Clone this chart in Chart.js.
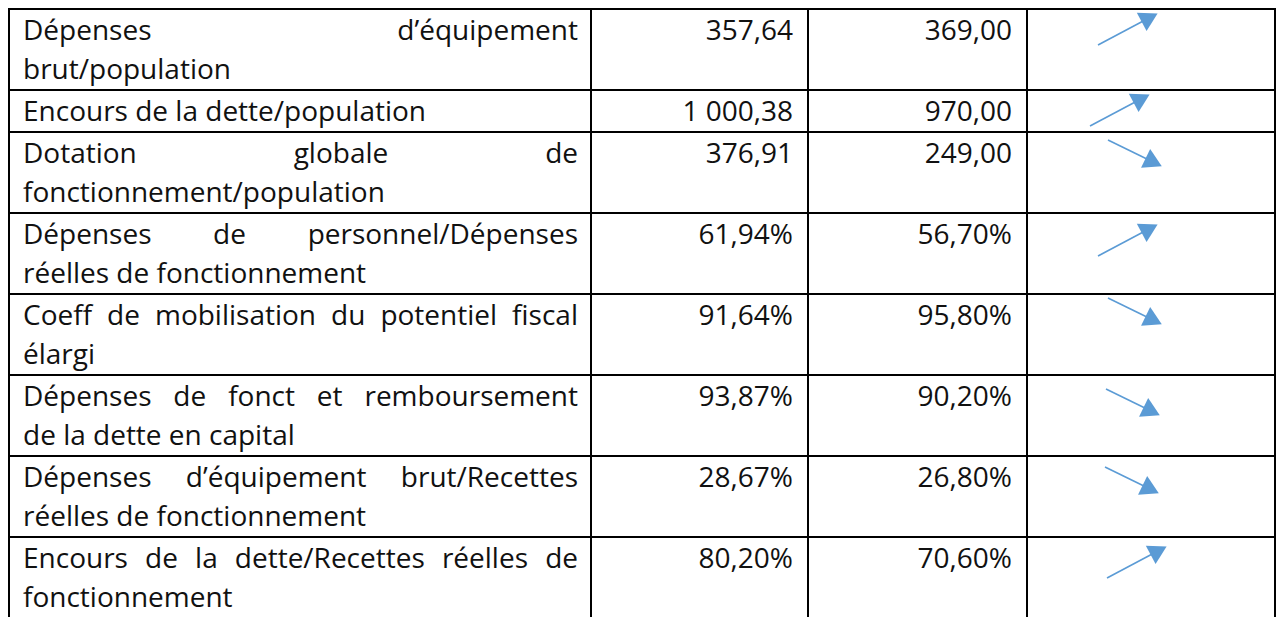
<!DOCTYPE html>
<html lang="fr">
<head>
<meta charset="utf-8">
<title>Ratios financiers</title>
<script src="https://cdn.jsdelivr.net/npm/chart.js@4/dist/chart.umd.min.js"></script>
<style>
  html, body {
    margin: 0;
    background: #fff;
    overflow: hidden;
    width: 1281px;
    height: 617px;
  }
  table {
    position: absolute;
    left: 8px;
    top: 8px;
    border-collapse: collapse;
    table-layout: fixed;
    font-family: 'Open Sans', sans-serif;
    font-size: 28px;
    color: #111;
  }
  td {
    border: 2px solid #000;
    line-height: 39px;
    padding: 0 12px 1px 13px;
    vertical-align: top;
  }
  td.num {
    text-align: right;
    padding-right: 14px;
  }
  td.fleche {
    position: relative;
    padding: 0;
  }
  .ln { text-align: left; white-space: nowrap; }
  .ln.just { text-align: justify; text-align-last: justify; }
  .box { position: absolute; }
</style>
</head>
<body>
<table id="tableau">
  <colgroup>
    <col style="width:582px">
    <col style="width:217px">
    <col style="width:219px">
    <col style="width:248px">
  </colgroup>
  <tbody></tbody>
</table>
<script>
// libelles, une entree par ligne du tableau (retours a la ligne comme dans le document)
const libelles = [
  ['Dépenses d’équipement', 'brut/population'],
  ['Encours de la dette/population'],
  ['Dotation globale de', 'fonctionnement/population'],
  ['Dépenses de personnel/Dépenses', 'réelles de fonctionnement'],
  ['Coeff de mobilisation du potentiel fiscal', 'élargi'],
  ['Dépenses de fonct et remboursement', 'de la dette en capital'],
  ['Dépenses d’équipement brut/Recettes', 'réelles de fonctionnement'],
  ['Encours de la dette/Recettes réelles de', 'fonctionnement']
]

const colonne2 = [357.64, 1000.38, 376.91, 61.94, 91.64, 93.87, 28.67, 80.20]
const colonne3 = [369.00, 970.00, 249.00, 56.70, 95.80, 90.20, 26.80, 70.60]
const enPourcent = [false, false, false, true, true, true, true, true]

// sens de la fleche dans la derniere colonne
const tendance = ['hausse', 'hausse', 'baisse', 'hausse', 'baisse', 'baisse', 'baisse', 'hausse']

// mise en page : depart de chaque fleche dans sa cellule (px)
const departFleche = [[71, 36], [63, 36], [81, 8], [71, 43], [81, 4], [79, 14], [78, 11], [80, 41]]

const bleu = '#5B9BD5'
const marge = 14

function fmt(v, pct) {
  let [ent, dec] = v.toFixed(2).split('.')
  ent = ent.replace(/\B(?=(\d{3})+(?!\d))/g, ' ')
  return ent + ',' + dec + (pct ? '%' : '')
}

const tbody = document.querySelector('#tableau tbody')

libelles.forEach((lignes, i) => {
  const tr = document.createElement('tr')

  const tdLib = document.createElement('td')
  lignes.forEach((txt, k) => {
    const div = document.createElement('div')
    div.className = k < lignes.length - 1 ? 'ln just' : 'ln'
    div.textContent = txt
    tdLib.appendChild(div)
  })
  if (lignes.length === 1) tdLib.style.height = '39px'
  tr.appendChild(tdLib)

  const td2 = document.createElement('td')
  td2.className = 'num'
  td2.textContent = fmt(colonne2[i], enPourcent[i])
  tr.appendChild(td2)

  const td3 = document.createElement('td')
  td3.className = 'num'
  td3.textContent = fmt(colonne3[i], enPourcent[i])
  tr.appendChild(td3)

  const td4 = document.createElement('td')
  td4.className = 'fleche'
  tr.appendChild(td4)
  tbody.appendChild(tr)

  // petit graphique : un segment et une tete triangulaire
  const monte = tendance[i] === 'hausse'
  const w = monte ? 49 : 43
  const h = monte ? 26 : 21
  const [tx, ty] = departFleche[i]
  const box = document.createElement('div')
  box.className = 'box'
  box.style.left = (tx - marge - 1) + 'px'
  box.style.top = (monte ? ty - h - marge : ty - marge) - 1 + 'px'
  const canvas = document.createElement('canvas')
  canvas.width = w + 2 * marge
  canvas.height = h + 2 * marge
  box.appendChild(canvas)
  td4.appendChild(box)

  new Chart(canvas.getContext('2d'), {
    type: 'scatter',
    data: {
      datasets: [
        {
          data: monte ? [{ x: 0, y: 0 }, { x: 1, y: 1 }] : [{ x: 0, y: 1 }, { x: 1, y: 0 }],
          showLine: true,
          borderColor: bleu,
          borderWidth: 1.6,
          backgroundColor: bleu,
          pointRadius: [0, 12],
          pointBorderWidth: 0,
          pointStyle: 'triangle',
          pointRotation: (ctx) => {
            const c = ctx.chart
            const d = ctx.dataset.data
            const dx = c.scales.x.getPixelForValue(d[1].x) - c.scales.x.getPixelForValue(d[0].x)
            const dy = c.scales.y.getPixelForValue(d[1].y) - c.scales.y.getPixelForValue(d[0].y)
            return Math.atan2(dx, -dy) * 180 / Math.PI
          },
          clip: false
        }
      ]
    },
    options: {
      responsive: false,
      animation: false,
      events: [],
      layout: { padding: marge },
      plugins: { legend: { display: false }, tooltip: { enabled: false } },
      scales: {
        x: { type: 'linear', min: 0, max: 1, display: false },
        y: { type: 'linear', min: 0, max: 1, display: false }
      }
    }
  })
})
</script>
</body>
</html>
